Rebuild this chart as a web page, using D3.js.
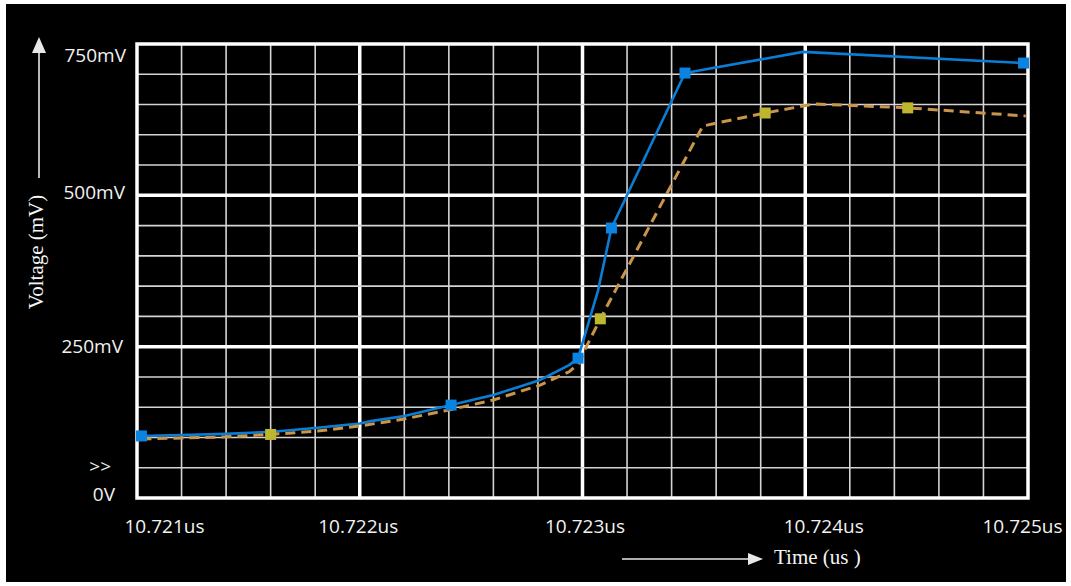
<!DOCTYPE html>
<html>
<head>
<meta charset="utf-8">
<script src="https://cdn.jsdelivr.net/npm/d3@7"></script>
<style>
  html, body { margin: 0; padding: 0; background: #ffffff; }
  svg { display: block; }
  .tick text { font-family: "Open Sans", "Noto Sans", sans-serif; font-size: 19px; fill: #f2f2f2; }
  .title { font-family: "Liberation Serif", "Times New Roman", serif; font-size: 21px; fill: #f4f4f4; }
</style>
</head>
<body>
<svg id="chart" width="1071" height="586"></svg>
<script>
// Time axis (us) and voltage axis (mV)
const xTickValues = [10.721, 10.722, 10.723, 10.724, 10.725];
const xTickLabels = ["10.721us", "10.722us", "10.723us", "10.724us", "10.725us"];
const yTickValues = [0, 250, 500, 750];
const yTickLabels = ["0V", "250mV", "500mV", "750mV"];

// Solid blue trace
const blueTime = [10.72102, 10.72120, 10.72140, 10.72161, 10.72181, 10.72200, 10.72205, 10.72220,
                  10.72241, 10.72260, 10.72281, 10.72294, 10.72298, 10.72307, 10.72313, 10.72346,
                  10.72399, 10.72498];
const blueVolt = [102.5, 104, 106, 109.5, 116, 123, 127, 135.5,
                  153.5, 170, 195, 219.5, 231, 343, 446, 702,
                  737, 718.5];
const blueMarkerIdx = [0, 8, 12, 14, 15, 17];

// Dashed olive trace
const oliveTime = [10.72102, 10.72140, 10.72160, 10.72181, 10.72200, 10.72220, 10.72240, 10.72260,
                   10.72281, 10.72294, 10.72299, 10.72301, 10.72308, 10.72354, 10.72382, 10.72404,
                   10.72446, 10.72499];
const oliveVolt = [97.5, 101, 105, 110.5, 119, 130.5, 145.5, 162,
                   186.5, 208.5, 225, 244.5, 296, 614.5, 636, 651,
                   644.5, 631];
const oliveMarkerIdx = [2, 12, 14, 16];

const svg = d3.select("#chart");

// dark panel
svg.append("rect").attr("x", 6).attr("y", 4).attr("width", 1060).attr("height", 578).attr("fill", "#000");

const plot = { left: 137, right: 1028, top: 44, bottom: 498 };
const x = d3.scaleLinear().domain([10.721, 10.725]).range([plot.left, plot.right]);
const y = d3.scaleLinear().domain([0, 750]).range([plot.bottom, plot.top]);

// grid: minor every 0.0002us / 50mV, major every 0.001us / 250mV
const grid = svg.append("g");
const xGrid = d3.range(1, 20).map(i => 10.721 + i * 0.0002);
const yGrid = d3.range(1, 15).map(i => i * 50);
grid.selectAll("line.vx").data(xGrid).join("line")
  .attr("x1", d => x(d)).attr("x2", d => x(d)).attr("y1", plot.top).attr("y2", plot.bottom)
  .attr("stroke", (d, i) => (i + 1) % 5 === 0 ? "#ffffff" : "#d4d4d4")
  .attr("stroke-width", (d, i) => (i + 1) % 5 === 0 ? 3.5 : 1.6);
grid.selectAll("line.hy").data(yGrid).join("line")
  .attr("y1", d => y(d)).attr("y2", d => y(d)).attr("x1", plot.left).attr("x2", plot.right)
  .attr("stroke", (d, i) => (i + 1) % 5 === 0 ? "#ffffff" : "#d4d4d4")
  .attr("stroke-width", (d, i) => (i + 1) % 5 === 0 ? 3.5 : 1.6);
grid.append("rect").attr("x", plot.left).attr("y", plot.top)
  .attr("width", plot.right - plot.left).attr("height", plot.bottom - plot.top)
  .attr("fill", "none").attr("stroke", "#ffffff").attr("stroke-width", 3.5);

// traces
const line = d3.line().x(d => x(d[0])).y(d => y(d[1]));
const blue = blueTime.map((t, i) => [t, blueVolt[i]]);
const olive = oliveTime.map((t, i) => [t, oliveVolt[i]]);

svg.append("path").datum(blue).attr("d", line)
  .attr("fill", "none").attr("stroke", "#0a7ed6").attr("stroke-width", 2.6)
  .attr("stroke-linejoin", "round");
svg.append("path").datum(olive).attr("d", line)
  .attr("fill", "none").attr("stroke", "#c8954a").attr("stroke-width", 3)
  .attr("stroke-dasharray", "10,6");

const ms = 11;
svg.selectAll("rect.mo").data(oliveMarkerIdx.map(i => olive[i])).join("rect")
  .attr("x", d => x(d[0]) - ms / 2).attr("y", d => y(d[1]) - ms / 2)
  .attr("width", ms).attr("height", ms).attr("fill", "#bdb62f");
svg.selectAll("rect.mb").data(blueMarkerIdx.map(i => blue[i])).join("rect")
  .attr("x", d => x(d[0]) - ms / 2).attr("y", d => y(d[1]) - ms / 2)
  .attr("width", ms).attr("height", ms).attr("fill", "#0a84e0");

// axis labels
const xLabelShift = [27, -2, 2, 18, -6];
const xAxis = svg.append("g").attr("transform", `translate(0,${plot.bottom})`)
  .call(d3.axisBottom(x).tickValues(xTickValues).tickFormat((d, i) => xTickLabels[i]).tickSize(0));
xAxis.select(".domain").remove();
xAxis.selectAll(".tick text").attr("y", 35).attr("dy", 0)
  .attr("dx", (d, i) => xLabelShift[i]).attr("font-size", null).attr("font-family", null);

const yLabelShiftX = [-11, -3, -1, 0];
const yLabelShiftY = [2, 6, 3, 17];
const yAxis = svg.append("g").attr("transform", `translate(126,0)`)
  .call(d3.axisLeft(y).tickValues(yTickValues).tickFormat((d, i) => yTickLabels[i]).tickSize(0).tickPadding(0));
yAxis.select(".domain").remove();
yAxis.selectAll(".tick text").attr("dy", 0)
  .attr("x", (d, i) => yLabelShiftX[i]).attr("y", (d, i) => yLabelShiftY[i])
  .attr("font-size", null).attr("font-family", null);
svg.selectAll("g").attr("font-size", null).attr("font-family", null);

// axis-break marker near zero
svg.append("text").attr("x", 111).attr("y", 473).attr("text-anchor", "end")
  .style("font-family", "'Open Sans', sans-serif").style("font-size", "19px")
  .attr("fill", "#f2f2f2").text(">>");

// axis titles with arrows
const arrowColor = "#e8e8e8";
svg.append("line").attr("x1", 622).attr("x2", 750).attr("y1", 559).attr("y2", 559)
  .attr("stroke", arrowColor).attr("stroke-width", 1.6);
svg.append("path").attr("d", "M748,553 L763,559 L748,565 Z").attr("fill", arrowColor);
svg.append("text").attr("class", "title").attr("x", 774).attr("y", 564).text("Time (us )");

svg.append("line").attr("x1", 39).attr("x2", 39).attr("y1", 178).attr("y2", 50)
  .attr("stroke", arrowColor).attr("stroke-width", 1.6);
svg.append("path").attr("d", "M32,53 L39,37 L46,53 Z").attr("fill", arrowColor);
svg.append("text").attr("class", "title")
  .attr("transform", "translate(43,252) rotate(-90)").attr("text-anchor", "middle")
  .text("Voltage (mV)");
</script>
</body>
</html>
